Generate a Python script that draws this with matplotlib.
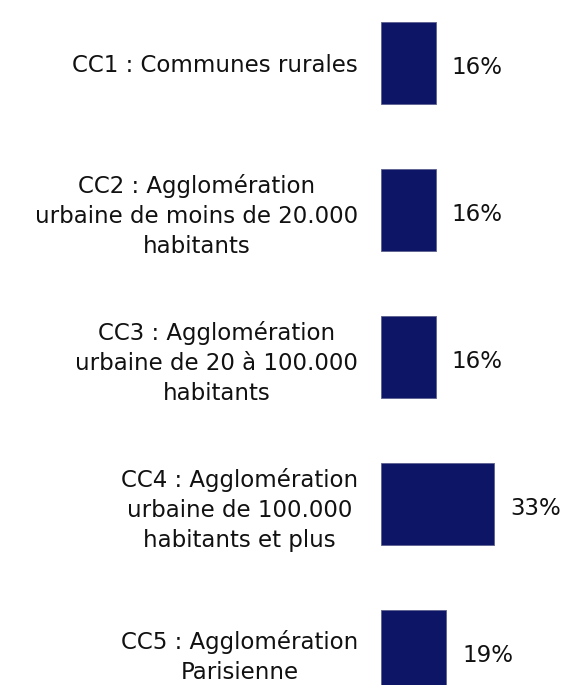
import matplotlib
matplotlib.use('Agg')
import matplotlib.pyplot as plt

# data
categories = [
    'CC1 : Communes rurales',
    'CC2 : Agglomération\nurbaine de moins de 20.000\nhabitants',
    'CC3 : Agglomération\nurbaine de 20 à 100.000\nhabitants',
    'CC4 : Agglomération\nurbaine de 100.000\nhabitants et plus',
    'CC5 : Agglomération\nParisienne',
]
values = [16, 16, 16, 33, 19]
value_labels = ['16%', '16%', '16%', '33%', '19%']

plt.rcParams['font.family'] = ['DejaVu Sans']

fig = plt.figure(figsize=(5.67, 6.85), dpi=100)
ax = fig.add_axes([381 / 567, 0, 1 - 381 / 567, 1])

ypos = list(range(len(values)))
ax.barh(ypos, values, height=0.56, color='#0c1566', edgecolor='#5a6090', linewidth=0.6)

ax.set_xlim(0, 186 / 3.43)
ax.set_ylim((685 - 63) / 147, -63 / 147)

ax.set_yticks(ypos)
ax.set_yticklabels(categories, fontsize=16.5, color='#111111', linespacing=1.4)
for t in ax.get_yticklabels():
    t.set_multialignment('center')
ax.tick_params(axis='y', length=0, pad=16.5)
ax.set_xticks([])

for s in ax.spines.values():
    s.set_visible(False)

# value labels
for y, v, lab in zip(ypos, values, value_labels):
    ax.annotate(lab, (v, y + 0.03), xytext=(11.5, 0), textcoords='offset points',
                ha='left', va='center', fontsize=16.5, color='#111111')

fig.savefig('out.png', dpi=100)
